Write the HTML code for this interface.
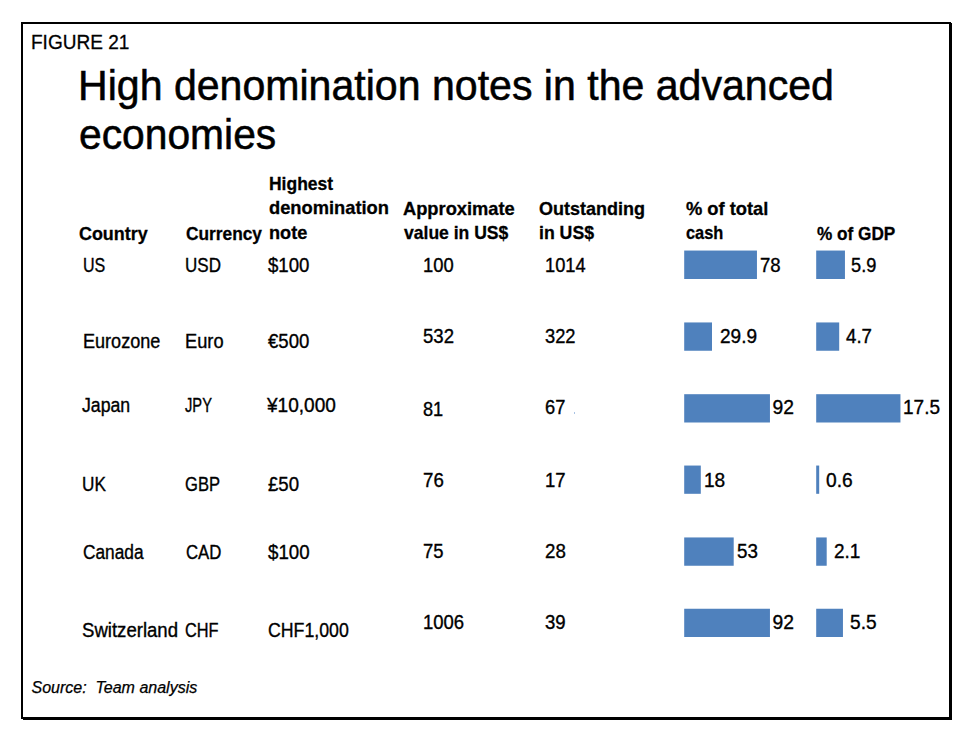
<!DOCTYPE html>
<html><head><meta charset="utf-8"><title>Figure 21</title>
<style>
html,body{margin:0;padding:0;background:#fff}
body{width:980px;height:748px;position:relative;overflow:hidden;font-family:"Liberation Sans",sans-serif;color:#000}
.frame{position:absolute;left:21px;top:22px;width:926px;height:693px;border:2px solid #000}
.sh{position:absolute;background:#000}
.x{position:absolute;white-space:pre;line-height:1;transform-origin:0 0}
.f{font-size:20.8px;font-weight:400;font-style:normal;-webkit-text-stroke:0.3px #000}
.t{font-size:42.4px;font-weight:400;font-style:normal;-webkit-text-stroke:0.55px #000}
.b{font-size:18.5px;font-weight:700;font-style:normal;-webkit-text-stroke:0.3px #000}
.r{font-size:19.3px;font-weight:400;font-style:normal;-webkit-text-stroke:0.35px #000}
.s{font-size:16.0px;font-weight:400;font-style:italic;-webkit-text-stroke:0.25px #000}
.bars{position:absolute;left:0;top:0}
</style></head>
<body>
<div class="frame"></div>
<div class="sh" style="left:951px;top:23px;width:1px;height:697px"></div>
<div class="sh" style="left:23px;top:719px;width:929px;height:1px"></div>
<div style="position:absolute;left:574px;top:412px;width:1px;height:2px;background:#a9c3e4"></div>
<svg class="bars" width="980" height="748" viewBox="0 0 980 748" fill="#4f81bd">
<rect x="684.2" y="250.55" width="72.75" height="28.45"/>
<rect x="816.2" y="250.55" width="28.75" height="28.45"/>
<rect x="684.2" y="322.45" width="27.8" height="28.3"/>
<rect x="816.2" y="322.45" width="23.0" height="28.3"/>
<rect x="684.2" y="394.2" width="85.75" height="28.3"/>
<rect x="816.2" y="394.2" width="84.25" height="28.3"/>
<rect x="684.2" y="465.55" width="16.6" height="28.25"/>
<rect x="816.2" y="465.55" width="3.0" height="28.25"/>
<rect x="684.2" y="537.45" width="49.5" height="28.3"/>
<rect x="816.2" y="537.45" width="10.5" height="28.3"/>
<rect x="684.2" y="608.75" width="85.75" height="28.25"/>
<rect x="816.2" y="608.75" width="26.75" height="28.25"/>
</svg>
<span class="x f" style="left:31.08px;top:32px;transform:scaleX(0.9149);">FIGURE 21</span>
<span class="x t" style="left:78.15px;top:65px;transform:scaleX(0.969);">High denomination notes in the advanced</span>
<span class="x t" style="left:79.01px;top:114px;transform:scaleX(0.9621);">economies</span>
<span class="x b" style="left:79.39px;top:225px;transform:scaleX(0.9673);">Country</span>
<span class="x b" style="left:185.51px;top:225px;transform:scaleX(0.9356);">Currency</span>
<span class="x b" style="left:268.98px;top:175px;transform:scaleX(0.9445);">Highest</span>
<span class="x b" style="left:268.88px;top:199px;transform:scaleX(0.9888);">denomination</span>
<span class="x b" style="left:268.92px;top:224px;transform:scaleX(0.9808);">note</span>
<span class="x b" style="left:403.27px;top:200px;transform:scaleX(0.9881);">Approximate</span>
<span class="x b" style="left:403.56px;top:224px;transform:scaleX(0.9482);">value in US$</span>
<span class="x b" style="left:539.39px;top:200px;transform:scaleX(0.9718);">Outstanding</span>
<span class="x b" style="left:538.82px;top:224px;transform:scaleX(0.9553);">in US$</span>
<span class="x b" style="left:685.63px;top:200px;transform:scaleX(0.9898);">% of total</span>
<span class="x b" style="left:685.86px;top:224px;transform:scaleX(0.8858);">cash</span>
<span class="x b" style="left:817.15px;top:225px;transform:scaleX(0.9292);">% of GDP</span>
<span class="x r" style="left:82.64px;top:256px;transform:scaleX(0.832);">US</span>
<span class="x r" style="left:185.08px;top:256px;transform:scaleX(0.8825);">USD</span>
<span class="x r" style="left:267.98px;top:256px;transform:scaleX(0.9654);">$100</span>
<span class="x r" style="left:423.09px;top:256px;transform:scaleX(0.9524);">100</span>
<span class="x r" style="left:545.1px;top:256px;transform:scaleX(0.9477);">1014</span>
<span class="x r" style="left:760.03px;top:256px;transform:scaleX(0.9616);">78</span>
<span class="x r" style="left:851.03px;top:256px;transform:scaleX(0.9447);">5.9</span>
<span class="x r" style="left:82.67px;top:332px;transform:scaleX(0.9373);">Eurozone</span>
<span class="x r" style="left:184.91px;top:332px;transform:scaleX(0.9466);">Euro</span>
<span class="x r" style="left:268.34px;top:332px;transform:scaleX(0.964);">€500</span>
<span class="x r" style="left:422.87px;top:327px;transform:scaleX(0.9629);">532</span>
<span class="x r" style="left:545.04px;top:327px;transform:scaleX(0.9496);">322</span>
<span class="x r" style="left:719.77px;top:327px;transform:scaleX(0.9865);">29.9</span>
<span class="x r" style="left:845.92px;top:327px;transform:scaleX(0.9684);">4.7</span>
<span class="x r" style="left:82.22px;top:396px;transform:scaleX(0.9178);">Japan</span>
<span class="x r" style="left:185.26px;top:396px;transform:scaleX(0.7614);">JPY</span>
<span class="x r" style="left:267.29px;top:396px;transform:scaleX(0.9879);">¥10,000</span>
<span class="x r" style="left:423.21px;top:400px;transform:scaleX(0.9413);">81</span>
<span class="x r" style="left:544.85px;top:398px;transform:scaleX(0.9472);">67</span>
<span class="x r" style="left:772.53px;top:398px;">92</span>
<span class="x r" style="left:902.95px;top:398px;transform:scaleX(0.9871);">17.5</span>
<span class="x r" style="left:82.06px;top:475px;transform:scaleX(0.892);">UK</span>
<span class="x r" style="left:185.08px;top:475px;transform:scaleX(0.8596);">GBP</span>
<span class="x r" style="left:267.62px;top:475px;transform:scaleX(0.9671);">£50</span>
<span class="x r" style="left:423.13px;top:471px;transform:scaleX(0.9692);">76</span>
<span class="x r" style="left:545.08px;top:471px;transform:scaleX(0.9604);">17</span>
<span class="x r" style="left:703.69px;top:471px;transform:scaleX(0.9901);">18</span>
<span class="x r" style="left:825.65px;top:471px;transform:scaleX(0.9956);">0.6</span>
<span class="x r" style="left:82.54px;top:543px;transform:scaleX(0.8972);">Canada</span>
<span class="x r" style="left:185.56px;top:543px;transform:scaleX(0.8703);">CAD</span>
<span class="x r" style="left:267.98px;top:543px;transform:scaleX(0.9701);">$100</span>
<span class="x r" style="left:423.14px;top:542px;transform:scaleX(0.9558);">75</span>
<span class="x r" style="left:544.88px;top:542px;transform:scaleX(0.9689);">28</span>
<span class="x r" style="left:736.76px;top:542px;transform:scaleX(0.9748);">53</span>
<span class="x r" style="left:833.52px;top:542px;transform:scaleX(0.983);">2.1</span>
<span class="x r" style="left:81.69px;top:621px;transform:scaleX(0.9636);">Switzerland</span>
<span class="x r" style="left:185.08px;top:621px;transform:scaleX(0.847);">CHF</span>
<span class="x r" style="left:267.52px;top:621px;transform:scaleX(0.9198);">CHF1,000</span>
<span class="x r" style="left:423.08px;top:613px;transform:scaleX(0.9592);">1006</span>
<span class="x r" style="left:545.03px;top:613px;transform:scaleX(0.9636);">39</span>
<span class="x r" style="left:772.53px;top:613px;">92</span>
<span class="x r" style="left:849.75px;top:613px;transform:scaleX(0.991);">5.5</span>
<span class="x s" style="left:31.49px;top:680px;">Source:  Team analysis</span>
</body></html>
